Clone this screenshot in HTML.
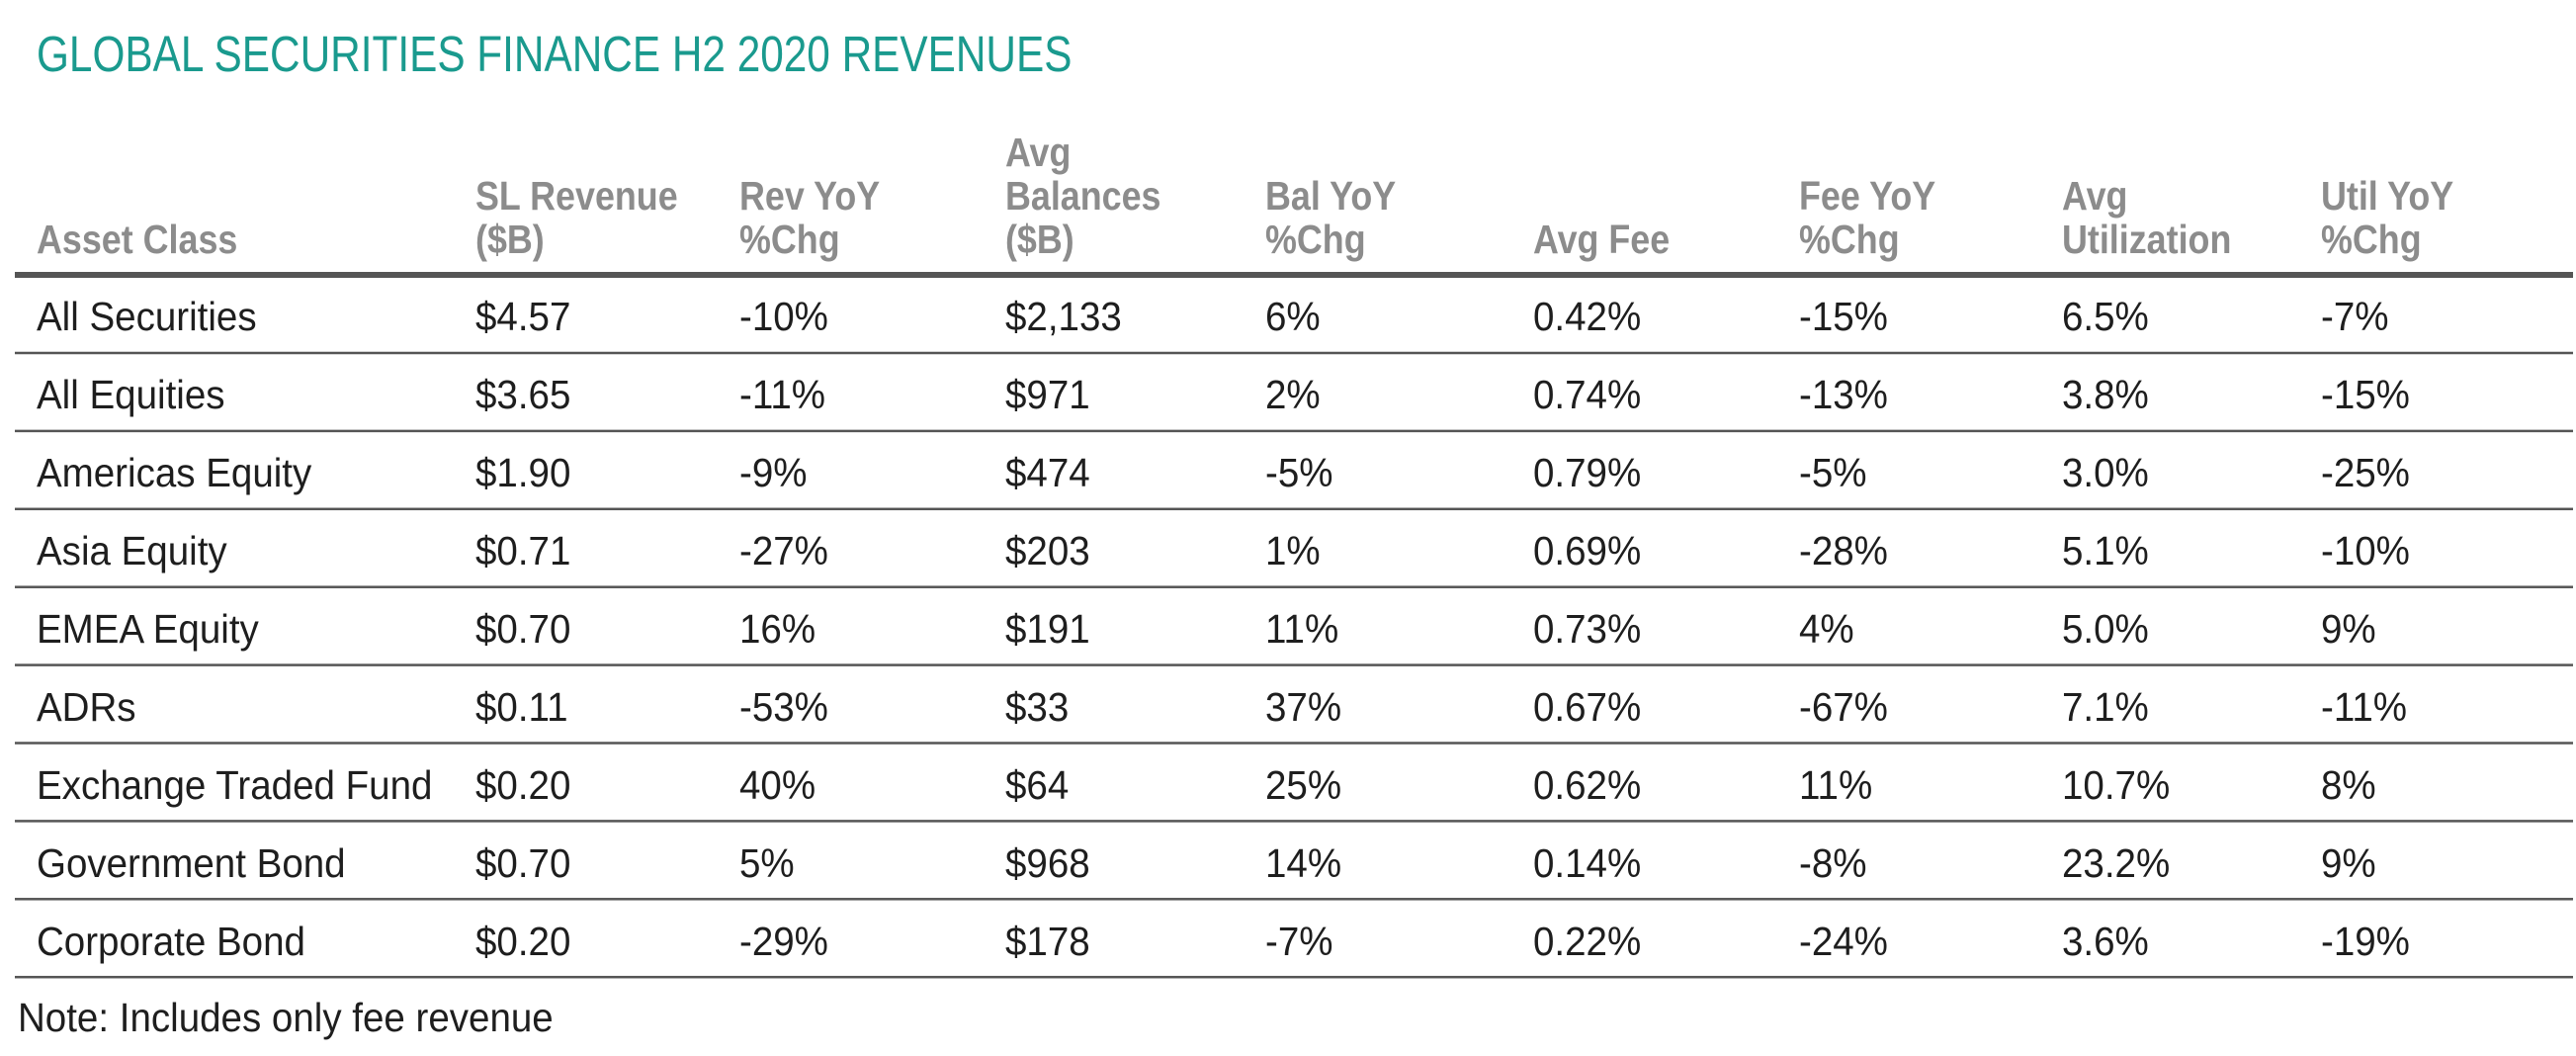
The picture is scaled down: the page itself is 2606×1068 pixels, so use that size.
<!DOCTYPE html>
<html><head><meta charset="utf-8"><style>
html,body{margin:0;padding:0;background:#fff;width:2606px;height:1068px;overflow:hidden}
svg{display:block;font-family:"Liberation Sans",sans-serif}
</style></head><body>
<svg id="tbl" width="2606" height="1068" viewBox="0 0 2606 1068" xmlns="http://www.w3.org/2000/svg"></svg>
<script>
const headers = [["Asset Class"],["SL Revenue","($B)"],["Rev YoY","%Chg"],["Avg","Balances","($B)"],["Bal YoY","%Chg"],["Avg Fee"],["Fee YoY","%Chg"],["Avg","Utilization"],["Util YoY","%Chg"]];
const assetClasses = ["All Securities","All Equities","Americas Equity","Asia Equity","EMEA Equity","ADRs","Exchange Traded Fund","Government Bond","Corporate Bond"];
const slRevenue = ["$4.57","$3.65","$1.90","$0.71","$0.70","$0.11","$0.20","$0.70","$0.20"];
const revYoY = ["-10%","-11%","-9%","-27%","16%","-53%","40%","5%","-29%"];
const avgBalances = ["$2,133","$971","$474","$203","$191","$33","$64","$968","$178"];
const balYoY = ["6%","2%","-5%","1%","11%","37%","25%","14%","-7%"];
const avgFee = ["0.42%","0.74%","0.79%","0.69%","0.73%","0.67%","0.62%","0.14%","0.22%"];
const feeYoY = ["-15%","-13%","-5%","-28%","4%","-67%","11%","-8%","-24%"];
const avgUtil = ["6.5%","3.8%","3.0%","5.1%","5.0%","7.1%","10.7%","23.2%","3.6%"];
const utilYoY = ["-7%","-15%","-25%","-10%","9%","-11%","8%","9%","-19%"];
const columns = [assetClasses,slRevenue,revYoY,avgBalances,balYoY,avgFee,feeYoY,avgUtil,utilYoY];
const colNames = ["asset-class","sl-revenue","rev-yoy","avg-balances","bal-yoy","avg-fee","fee-yoy","avg-utilization","util-yoy"];

const svg = document.getElementById('tbl');
const NS = "http://www.w3.org/2000/svg";
const colX = [37,481,748,1017,1280,1551,1820,2086,2348];
function txt(x,y,s,size,fill,weight,sx){
  const t = document.createElementNS(NS,'text');
  t.setAttribute('x', x/sx); t.setAttribute('y', y);
  t.setAttribute('transform','scale('+sx+',1)');
  t.setAttribute('font-size', size); t.setAttribute('fill', fill);
  if(weight) t.setAttribute('font-weight', weight);
  t.textContent = s; svg.appendChild(t); return t;
}
function line(y,w,name){
  const l = document.createElementNS(NS,'rect');
  l.setAttribute('x',15); l.setAttribute('y',y-w/2); l.setAttribute('width',2588); l.setAttribute('height',w);
  l.setAttribute('fill','#555');
  
  
  svg.appendChild(l);
}
const title = txt(37,72,"GLOBAL SECURITIES FINANCE H2 2020 REVENUES",51,"#1a9a8e",null,0.83);



headers.forEach((h,i)=>{
  h.forEach((s,j)=>{
    const y = 256 - (h.length-1-j)*44;
    const t = txt(colX[i], y, s, 41, "#8c8c8c", "bold", 0.875);
    
    
  });
});
line(278,6,'header-rule');
assetClasses.forEach((a,r)=>{
  const y = 334 + r*79;
  columns.forEach((col,c)=>{
    const t = txt(colX[c], y, col[r], 41, "#1e1e1e", null, 0.94);
    
    
  });
  line(357 + r*78.9, 2.5, 'row-divider');
});
const note = txt(18,1043,"Note: Includes only fee revenue",41,"#1e1e1e",null,0.94);


</script>
</body></html>
